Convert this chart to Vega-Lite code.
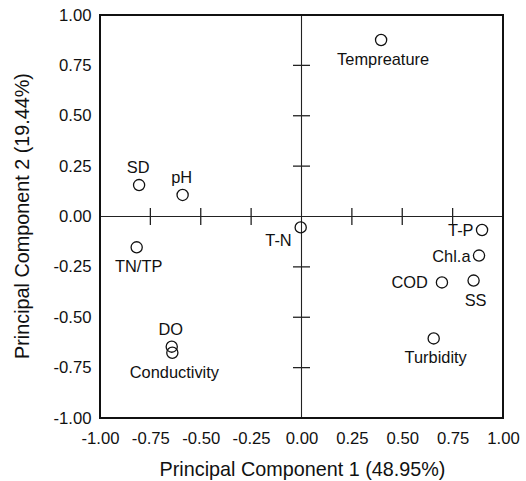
{
  "$schema": "https://vega.github.io/schema/vega-lite/v6.json",
  "autosize": {"type": "none"},
  "padding": {"left": 100, "top": 15, "right": 23, "bottom": 63},
  "width": 403,
  "height": 403,
  "background": "white",
  "datasets": {
    "loadings": [
      {"variable": "Tempreature", "pc1": 0.395, "pc2": 0.876},
      {"variable": "SD", "pc1": -0.806, "pc2": 0.156},
      {"variable": "pH", "pc1": -0.59, "pc2": 0.107},
      {"variable": "TN/TP", "pc1": -0.818, "pc2": -0.153},
      {"variable": "DO", "pc1": -0.644, "pc2": -0.646},
      {"variable": "Conductivity", "pc1": -0.641, "pc2": -0.676},
      {"variable": "T-N", "pc1": -0.004, "pc2": -0.054},
      {"variable": "T-P", "pc1": 0.896, "pc2": -0.067},
      {"variable": "Chl.a", "pc1": 0.881, "pc2": -0.194},
      {"variable": "COD", "pc1": 0.697, "pc2": -0.327},
      {"variable": "SS", "pc1": 0.854, "pc2": -0.318},
      {"variable": "Turbidity", "pc1": 0.656, "pc2": -0.605}
    ],
    "ticks": [
      {"v": -0.75}, {"v": -0.5}, {"v": -0.25}, {"v": 0.25}, {"v": 0.5}, {"v": 0.75}
    ],
    "one": [{"k": 1}]
  },
  "layer": [
    {
      "data": {"name": "one"},
      "mark": {"type": "rule", "color": "#222", "strokeWidth": 1.1},
      "encoding": {
        "x": {"datum": 0, "type": "quantitative", "scale": {"domain": [-1, 1], "nice": false, "zero": false},
          "axis": {
            "orient": "bottom",
            "values": [-1, -0.75, -0.5, -0.25, 0, 0.25, 0.5, 0.75, 1],
            "labelExpr": "(datum.value < 0 ? '-' : '') + format(abs(datum.value), '.2f')",
            "ticks": false, "tickSize": 0, "domain": false, "grid": false,
            "labelFlush": false, "labelOverlap": false,
            "labelFont": "Liberation Sans", "labelFontSize": 16.7, "labelColor": "#111",
            "labelPadding": 12,
            "title": "Principal Component 1 (48.95%)",
            "titleFont": "Liberation Sans", "titleFontSize": 19.8, "titleFontWeight": "normal", "titleColor": "#111",
            "titleBaseline": "alphabetic", "titleAlign": "center", "titleX": 202, "titleY": 57.5
          }
        }
      }
    },
    {
      "data": {"name": "one"},
      "mark": {"type": "rule", "color": "#222", "strokeWidth": 1.1},
      "encoding": {
        "y": {"datum": 0, "type": "quantitative", "scale": {"domain": [-1, 1], "nice": false, "zero": false},
          "axis": {
            "orient": "left",
            "values": [-1, -0.75, -0.5, -0.25, 0, 0.25, 0.5, 0.75, 1],
            "labelExpr": "(datum.value < 0 ? '-' : '') + format(abs(datum.value), '.2f')",
            "ticks": false, "tickSize": 0, "domain": false, "grid": false,
            "labelFlush": false, "labelOverlap": false,
            "labelFont": "Liberation Sans", "labelFontSize": 16.7, "labelColor": "#111",
            "labelPadding": 9,
            "title": "Principal Component 2 (19.44%)",
            "titleFont": "Liberation Sans", "titleFontSize": 19.8, "titleFontWeight": "normal", "titleColor": "#111",
            "titleAngle": -90, "titleBaseline": "alphabetic", "titleAlign": "center", "titleX": -71.7, "titleY": 200.5
          }
        }
      }
    },
    {
      "data": {"name": "one"},
      "mark": {"type": "rect", "fill": null, "fillOpacity": 0, "stroke": "#111", "strokeWidth": 2},
      "encoding": {
        "x": {"datum": -1, "type": "quantitative"},
        "x2": {"datum": 1},
        "y": {"datum": -1, "type": "quantitative"},
        "y2": {"datum": 1}
      }
    },
    {
      "data": {"name": "ticks"},
      "mark": {"type": "tick", "orient": "vertical", "size": 17, "thickness": 1.3, "color": "#222", "opacity": 1},
      "encoding": {
        "x": {"field": "v", "type": "quantitative", "scale": {"domain": [-1, 1], "nice": false, "zero": false}},
        "y": {"datum": 0, "type": "quantitative", "scale": {"domain": [-1, 1], "nice": false, "zero": false}}
      }
    },
    {
      "data": {"name": "ticks"},
      "mark": {"type": "tick", "orient": "horizontal", "size": 17, "thickness": 1.3, "color": "#222", "opacity": 1},
      "encoding": {
        "y": {"field": "v", "type": "quantitative", "scale": {"domain": [-1, 1], "nice": false, "zero": false}},
        "x": {"datum": 0, "type": "quantitative", "scale": {"domain": [-1, 1], "nice": false, "zero": false}}
      }
    },
    {
      "data": {"name": "loadings"},
      "mark": {"type": "point", "shape": "circle", "filled": false, "size": 125, "strokeWidth": 1.3, "color": "#111", "opacity": 1},
      "encoding": {
        "x": {"field": "pc1", "type": "quantitative", "scale": {"domain": [-1, 1], "nice": false, "zero": false}},
        "y": {"field": "pc2", "type": "quantitative", "scale": {"domain": [-1, 1], "nice": false, "zero": false}}
      }
    },
    {
      "data": {"name": "loadings"},
      "transform": [{"filter": {"field": "variable", "oneOf": ["SD", "pH", "DO"]}}],
      "mark": {"type": "text", "font": "Liberation Sans", "fontSize": 16.4, "color": "#111", "align": "center", "baseline": "alphabetic", "dx": -1, "dy": -12},
      "encoding": {
        "x": {"field": "pc1", "type": "quantitative"},
        "y": {"field": "pc2", "type": "quantitative"},
        "text": {"field": "variable"}
      }
    },
    {
      "data": {"name": "loadings"},
      "transform": [{"filter": {"field": "variable", "oneOf": ["Tempreature", "TN/TP", "Conductivity", "SS", "Turbidity"]}}],
      "mark": {"type": "text", "font": "Liberation Sans", "fontSize": 16.4, "color": "#111", "align": "center", "baseline": "alphabetic", "dx": 2, "dy": 25},
      "encoding": {
        "x": {"field": "pc1", "type": "quantitative"},
        "y": {"field": "pc2", "type": "quantitative"},
        "text": {"field": "variable"}
      }
    },
    {
      "data": {"name": "loadings"},
      "transform": [{"filter": {"field": "variable", "oneOf": ["T-P", "Chl.a"]}}],
      "mark": {"type": "text", "font": "Liberation Sans", "fontSize": 16.4, "color": "#111", "align": "right", "baseline": "middle", "dx": -8.5, "dy": 1},
      "encoding": {
        "x": {"field": "pc1", "type": "quantitative"},
        "y": {"field": "pc2", "type": "quantitative"},
        "text": {"field": "variable"}
      }
    },
    {
      "data": {"name": "loadings"},
      "transform": [{"filter": {"field": "variable", "equal": "COD"}}],
      "mark": {"type": "text", "font": "Liberation Sans", "fontSize": 16.4, "color": "#111", "align": "right", "baseline": "middle", "dx": -14, "dy": 1},
      "encoding": {
        "x": {"field": "pc1", "type": "quantitative"},
        "y": {"field": "pc2", "type": "quantitative"},
        "text": {"field": "variable"}
      }
    },
    {
      "data": {"name": "loadings"},
      "transform": [{"filter": {"field": "variable", "equal": "T-N"}}],
      "mark": {"type": "text", "font": "Liberation Sans", "fontSize": 16.4, "color": "#111", "align": "right", "baseline": "middle", "dx": -9, "dy": 14},
      "encoding": {
        "x": {"field": "pc1", "type": "quantitative"},
        "y": {"field": "pc2", "type": "quantitative"},
        "text": {"field": "variable"}
      }
    }
  ],
  "config": {
    "view": {"stroke": "#111", "strokeWidth": 2},
    "axis": {"grid": false}
  }
}
